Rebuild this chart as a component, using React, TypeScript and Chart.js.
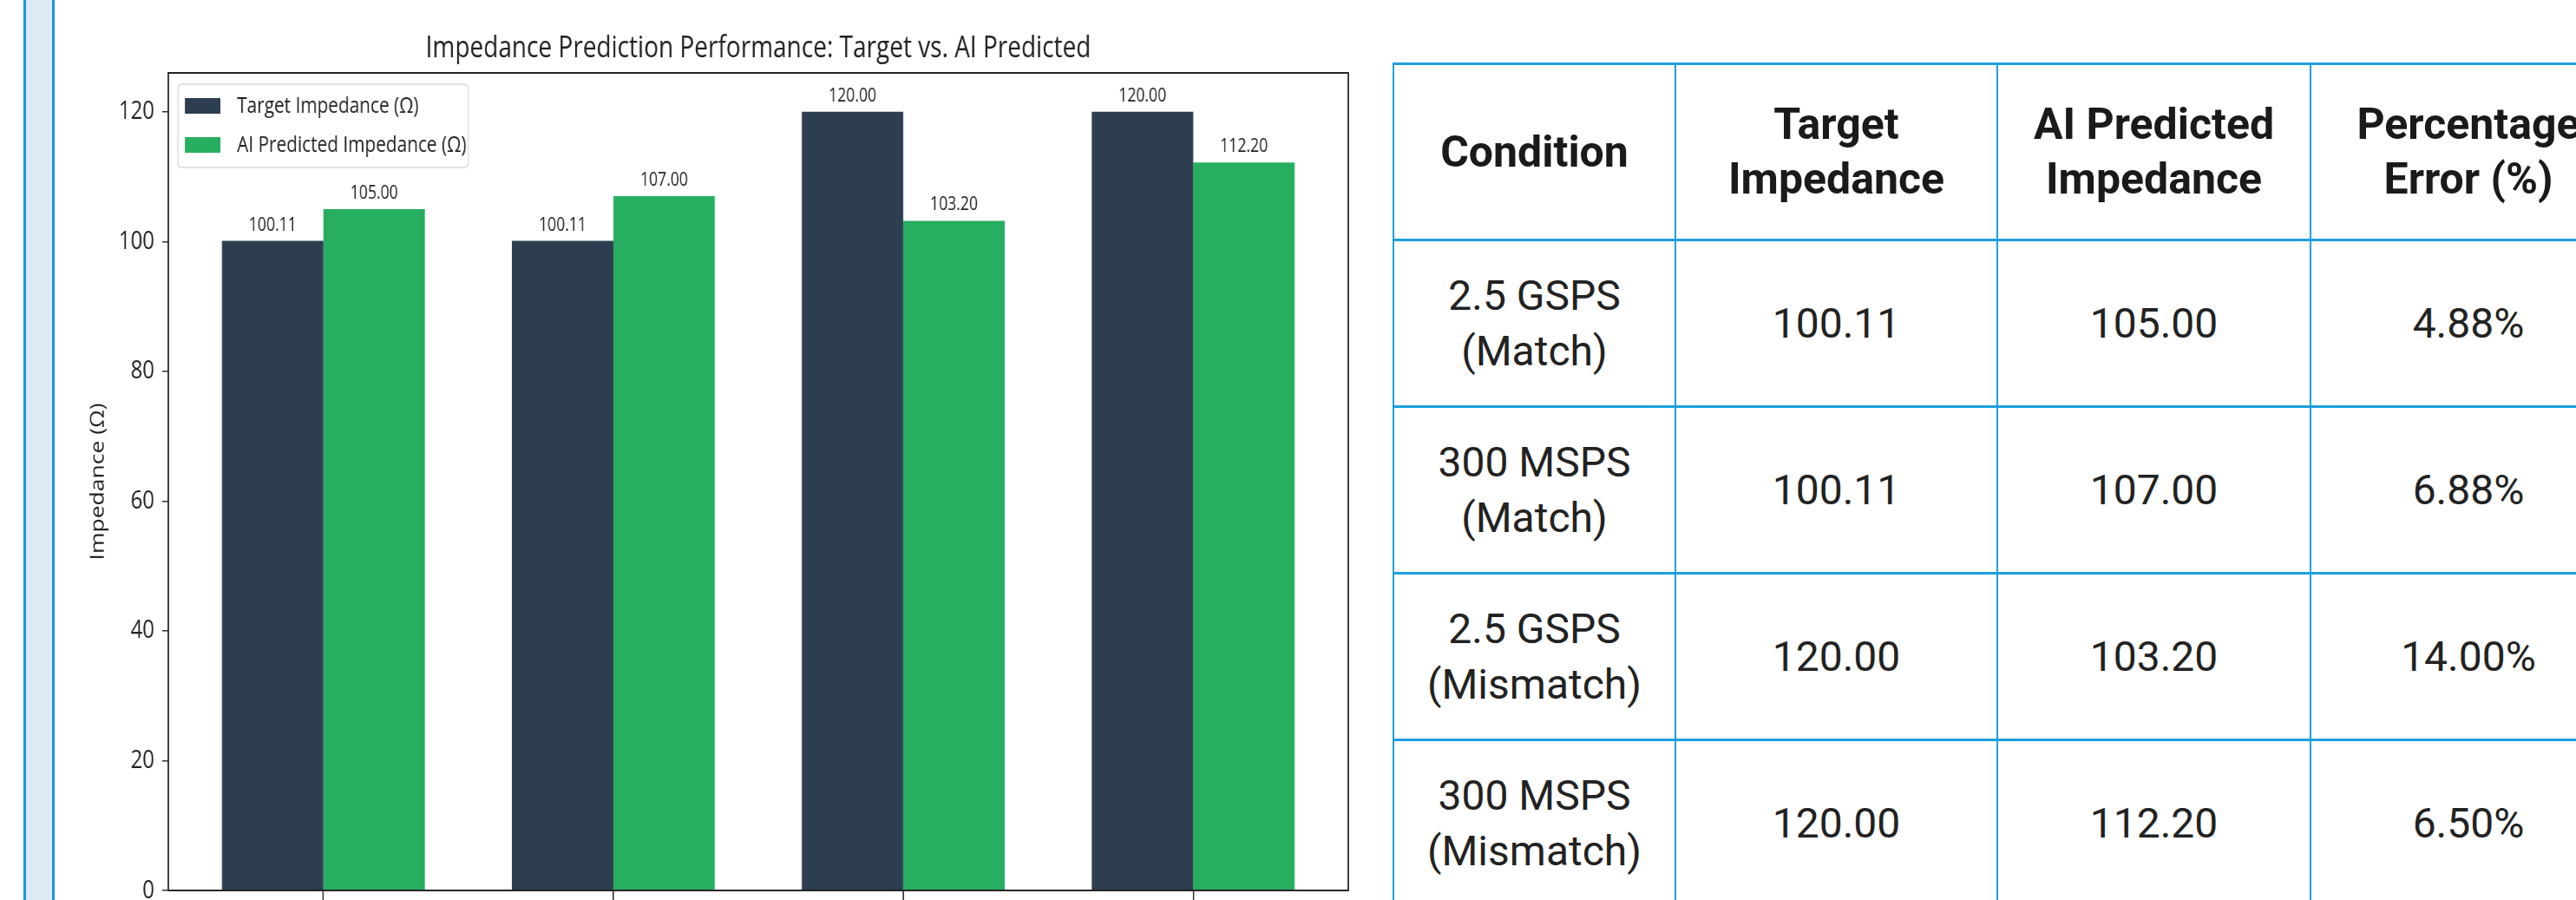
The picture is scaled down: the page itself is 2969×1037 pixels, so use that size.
import React, { useEffect, useRef } from 'react';
import { Chart, registerables } from 'chart.js';

Chart.register(...registerables);

// ---------- data ----------
const categoryLines: string[][] = [
  ['2.5 GSPS', '(Match)'],
  ['300 MSPS', '(Match)'],
  ['2.5 GSPS', '(Mismatch)'],
  ['300 MSPS', '(Mismatch)'],
];
const targetValues = [100.11, 100.11, 120.0, 120.0];
const predictedValues = [105.0, 107.0, 103.2, 112.2];
const errorLabels = ['4.88%', '6.88%', '14.00%', '6.50%'];
const seriesLabels = ['Target Impedance (Ω)', 'AI Predicted Impedance (Ω)'];
const seriesColors = ['#2c3e50', '#27ae60'];
const yTickStep = 20;
const yMax = 126;
const chartTitle = 'Impedance Prediction Performance: Target vs. AI Predicted';
const yAxisTitle = 'Impedance (Ω)';
const tableHeaders: string[][] = [
  ['Condition'],
  ['Target', 'Impedance'],
  ['AI Predicted', 'Impedance'],
  ['Percentage', 'Error (%)'],
];

// ---------- layout constants ----------
const K = 0.8; // horizontal squeeze of the chart picture
const CANVAS_W = 2020;
const CANVAS_H = 1037;
const FONT = '"Open Sans", Lato, "DejaVu Sans", sans-serif';
const INK = '#222222';

function ChartPanel() {
  const canvasRef = useRef<HTMLCanvasElement | null>(null);

  useEffect(() => {
    const canvas = canvasRef.current;
    if (!canvas) return;

    const barLabels = {
      id: 'barLabels',
      afterDatasetsDraw(chart: any) {
        const c = chart.ctx;
        c.save();
        c.font = `22px ${FONT}`;
        c.fillStyle = INK;
        c.textAlign = 'center';
        c.textBaseline = 'alphabetic';
        chart.data.datasets.forEach((ds: any, di: number) => {
          const meta = chart.getDatasetMeta(di);
          meta.data.forEach((bar: any, i: number) => {
            const v = ds.data[i].y as number;
            c.fillText(v.toFixed(2), bar.x, bar.y - 12);
          });
        });
        c.restore();
      },
    };

    const frameAndLegend = {
      id: 'frameAndLegend',
      afterDraw(chart: any) {
        const c = chart.ctx;
        const { left, top, right, bottom } = chart.chartArea;
        c.save();
        c.strokeStyle = '#262626';
        c.lineWidth = 2;
        c.strokeRect(left, top, right - left, bottom - top);

        // legend box
        const bx = left + 14;
        const by = 97;
        const bw = 418;
        const bh = 96;
        c.beginPath();
        if ((c as any).roundRect) (c as any).roundRect(bx, by, bw, bh, 5);
        else c.rect(bx, by, bw, bh);
        c.fillStyle = 'rgba(255,255,255,0.85)';
        c.fill();
        c.strokeStyle = '#d6d6d6';
        c.lineWidth = 1.5;
        c.stroke();

        const rowsY = [122, 167];
        c.font = `26px ${FONT}`;
        c.textAlign = 'left';
        c.textBaseline = 'middle';
        seriesLabels.forEach((lab, i) => {
          c.fillStyle = seriesColors[i];
          c.fillRect(left + 24, rowsY[i] - 9, 51, 18);
          c.fillStyle = INK;
          c.fillText(lab, left + 99, rowsY[i] + 1);
        });
        c.restore();
      },
    };

    const chart = new Chart(canvas, {
      type: 'bar',
      data: {
        datasets: [
          {
            label: seriesLabels[0],
            data: targetValues.map((v, i) => ({ x: i, y: v })),
            backgroundColor: seriesColors[0],
            borderWidth: 0,
          },
          {
            label: seriesLabels[1],
            data: predictedValues.map((v, i) => ({ x: i, y: v })),
            backgroundColor: seriesColors[1],
            borderWidth: 0,
          },
        ],
      },
      options: {
        animation: false,
        responsive: true,
        maintainAspectRatio: false,
        layout: { padding: { left: 0, right: 160, top: 0, bottom: 0 } },
        datasets: {
          bar: { categoryPercentage: 0.7, barPercentage: 1.0, grouped: true },
        },
        plugins: {
          legend: { display: false },
          tooltip: { enabled: false },
          title: {
            display: true,
            fullSize: false,
            text: chartTitle,
            color: INK,
            font: { family: FONT, size: 35, weight: 'normal' },
            padding: { top: 35, bottom: 7 },
          },
        },
        scales: {
          x: {
            type: 'linear',
            offset: false,
            min: -0.535,
            max: 3.535,
            afterBuildTicks: (s: any) => {
              s.ticks = categoryLines.map((_, i) => ({ value: i }));
            },
            afterFit: (s: any) => {
              s.height = 11;
              s.paddingLeft = 0;
              s.paddingRight = 0;
            },
            ticks: {
              autoSkip: false,
              maxRotation: 0,
              color: INK,
              font: { family: FONT, size: 30 },
              callback: (_v: any, idx: number) => categoryLines[idx],
            },
            grid: {
              offset: false,
              drawOnChartArea: false,
              drawTicks: true,
              tickLength: 11,
              color: '#333',
              lineWidth: 2,
            },
            border: { display: false },
          },
          y: {
            min: 0,
            max: yMax,
            afterFit: (s: any) => {
              s.width = 160;
              s.paddingTop = 0;
              s.paddingBottom = 0;
            },
            ticks: {
              stepSize: yTickStep,
              includeBounds: false,
              color: INK,
              padding: 11,
              font: { family: FONT, size: 30 },
            },
            grid: {
              drawOnChartArea: false,
              drawTicks: true,
              tickLength: 9,
              color: '#333',
              lineWidth: 1.5,
            },
            border: { display: false },
            title: {
              display: true,
              text: yAxisTitle,
              color: INK,
              font: { family: FONT, size: 26.5 },
              padding: { top: 44, bottom: 0 },
            },
          },
        },
      },
      plugins: [barLabels, frameAndLegend],
    } as any);

    return () => chart.destroy();
  }, []);

  return (
    <div
      style={{
        position: 'absolute',
        left: 66,
        top: 0,
        width: CANVAS_W,
        height: CANVAS_H,
        transform: `scaleX(${K})`,
        transformOrigin: '0 0',
      }}
    >
      <canvas ref={canvasRef} style={{ display: 'block' }} />
    </div>
  );
}

const BORDER = '#1ca0dc';
const colWidths = [325, 371, 361, 364];

function DataTable() {
  const cellBase: React.CSSProperties = {
    borderLeft: `2px solid ${BORDER}`,
    borderRight: `2px solid ${BORDER}`,
    borderTop: `3px solid ${BORDER}`,
    borderBottom: `3px solid ${BORDER}`,
    textAlign: 'center',
    verticalAlign: 'middle',
    padding: 0,
  };
  const headStyle: React.CSSProperties = {
    ...cellBase,
    fontWeight: 700,
    fontSize: 50,
    lineHeight: '63px',
    color: '#1a1a1a',
  };
  const bodyStyle: React.CSSProperties = {
    ...cellBase,
    fontWeight: 400,
    fontSize: 48,
    lineHeight: '64px',
    color: '#222',
  };
  const lines = (arr: string[]) =>
    arr.map((t, i) => (
      <React.Fragment key={i}>
        {i > 0 && <br />}
        {t}
      </React.Fragment>
    ));
  return (
    <table
      style={{
        position: 'absolute',
        left: 1605,
        top: 72,
        borderCollapse: 'collapse',
        tableLayout: 'fixed',
        width: colWidths.reduce((a, b) => a + b, 0),
        fontFamily: 'Roboto, "Noto Sans", sans-serif',
        background: '#fff',
      }}
    >
      <colgroup>
        {colWidths.map((w, i) => (
          <col key={i} style={{ width: w }} />
        ))}
      </colgroup>
      <tbody>
        <tr style={{ height: 203 }}>
          {tableHeaders.map((h, i) => (
            <th key={i} style={headStyle}>
              {lines(h)}
            </th>
          ))}
        </tr>
        {categoryLines.map((cat, r) => (
          <tr key={r} style={{ height: 192 }}>
            <td style={bodyStyle}>{lines(cat)}</td>
            <td style={bodyStyle}>{targetValues[r].toFixed(2)}</td>
            <td style={bodyStyle}>{predictedValues[r].toFixed(2)}</td>
            <td style={bodyStyle}>{errorLabels[r]}</td>
          </tr>
        ))}
      </tbody>
    </table>
  );
}

export default function App() {
  return (
    <div
      style={{
        position: 'fixed',
        left: 0,
        top: 0,
        width: 2969,
        height: 1037,
        overflow: 'hidden',
        background: '#ffffff',
      }}
    >
      <div
        style={{
          position: 'absolute',
          left: 27,
          top: 0,
          width: 30,
          height: 1037,
          background: '#dde9f5',
          borderLeft: '3px solid #1a9ad9',
          borderRight: '3px solid #1a9ad9',
        }}
      />
      <ChartPanel />
      <DataTable />
    </div>
  );
}
